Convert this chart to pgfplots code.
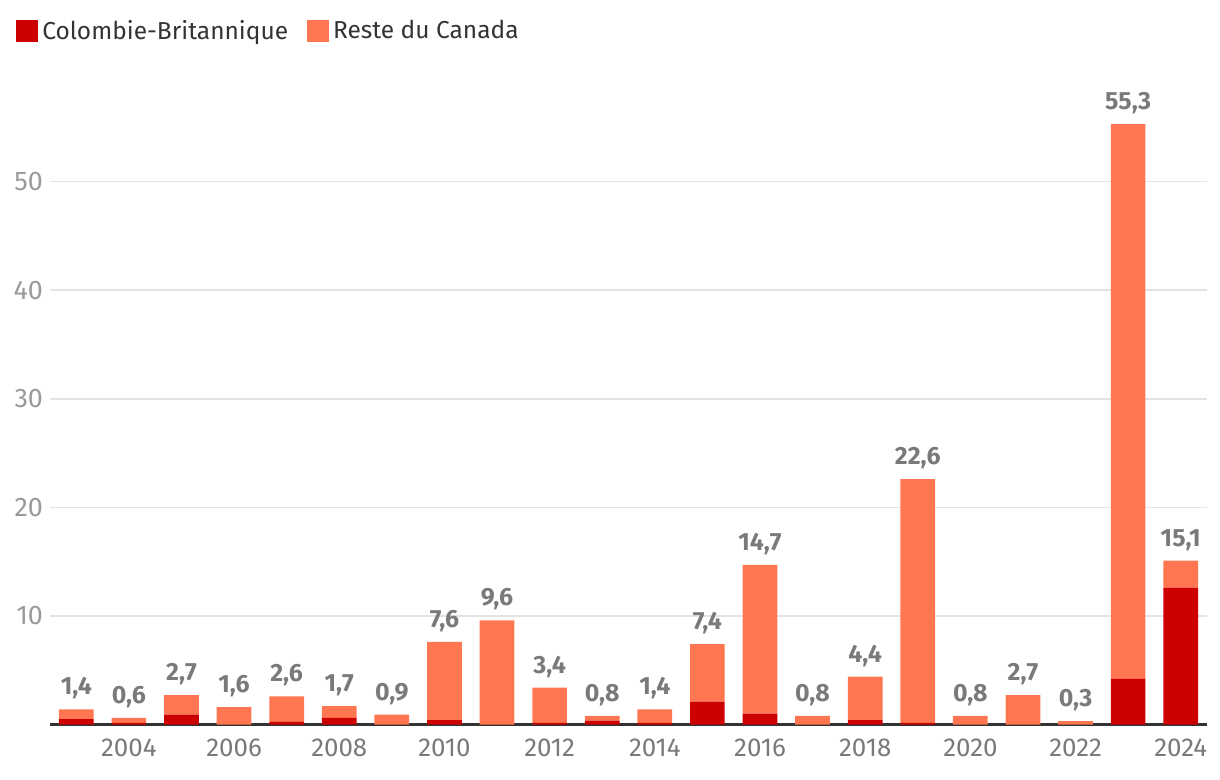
\documentclass[border=0pt]{standalone}
\usepackage{pgfplots}
\pgfplotsset{compat=1.18}
\usepackage{pgfplotstable}
\usepackage{fontspec}
\setmainfont{Fira Sans}
\definecolor{bc}{HTML}{CC0000}
\definecolor{rest}{HTML}{FF7650}
\definecolor{gridc}{HTML}{E3E3E3}
\definecolor{labc}{HTML}{7A7A7A}
\definecolor{ylabc}{HTML}{9A9A9A}
\definecolor{txt}{HTML}{333333}
\pgfplotstableread{
year bc rest total
2003 0.5 0.9 1.4
2004 0.15 0.45 0.6
2005 0.9 1.8 2.7
2006 0 1.6 1.6
2007 0.25 2.35 2.6
2008 0.6 1.1 1.7
2009 0 0.9 0.9
2010 0.4 7.2 7.6
2011 0 9.6 9.6
2012 0.15 3.25 3.4
2013 0.35 0.45 0.8
2014 0.15 1.25 1.4
2015 2.1 5.3 7.4
2016 1.0 13.7 14.7
2017 0 0.8 0.8
2018 0.4 4.0 4.4
2019 0.15 22.45 22.6
2020 0 0.8 0.8
2021 0 2.7 2.7
2022 0 0.3 0.3
2023 4.2 51.1 55.3
2024 12.6 2.5 15.1
}\datatable
\begin{document}
\begin{tikzpicture}
\begin{axis}[
  at={(25bp,27.75bp)}, anchor=south west,
  scale only axis, width=578.5bp, height=325.75bp,
  ybar stacked, bar width=0.66,
  xmin=2002.5, xmax=2024.5, ymin=0, ymax=60,
  axis x line*=bottom, axis y line*=left,
  x axis line style={txt, line width=1.2bp, -},
  y axis line style={draw=none},
  ymajorgrids, grid style={gridc, line width=0.8bp},
  ytick={10,20,30,40,50},
  xtick={2004,2006,...,2024},
  x tick label style={/pgf/number format/1000 sep={}},
  xticklabel style={font=\fontsize{13}{15}\selectfont, text=labc, yshift=-3.5bp},
  yticklabel style={font=\fontsize{13.5}{15}\selectfont, text=ylabc, xshift=0bp},
  /pgf/number format/assume math mode=true,
  major tick length=0pt,
  legend style={at={(0,1)}, anchor=west, xshift=-20bp, yshift=21bp,
    legend columns=-1, draw=none, fill=none,
    font=\fontsize{12.3}{14}\selectfont, text=txt,
    /tikz/every even column/.append style={column sep=7.5bp}},
  legend image code/.code={\fill[#1] (0bp,-5.5bp) rectangle (11bp,5.5bp);},
]
\addplot[fill=bc, draw=none] table[x=year, y=bc] {\datatable};
\addplot[fill=rest, draw=none] table[x=year, y=rest] {\datatable};
\legend{Colombie-Britannique, Reste du Canada}
\end{axis}
\begin{axis}[
  at={(25bp,27.75bp)}, anchor=south west,
  scale only axis, width=578.5bp, height=325.75bp,
  xmin=2002.5, xmax=2024.5, ymin=0, ymax=60,
  axis lines=none, clip=false,
]
\addplot[draw=none, mark=none,
  nodes near coords, point meta=explicit,
  every node near coord/.append style={font=\bfseries\fontsize{12.5}{14}\selectfont, text=labc, anchor=south, yshift=1.5bp,
   /pgf/number format/.cd, fixed, fixed zerofill, precision=1, use comma, assume math mode=true}]
  table[x=year, y=total, meta=total] {\datatable};
\end{axis}
\pgfresetboundingbox
\path (0,0) rectangle (610bp,390bp);
\end{tikzpicture}
\end{document}
